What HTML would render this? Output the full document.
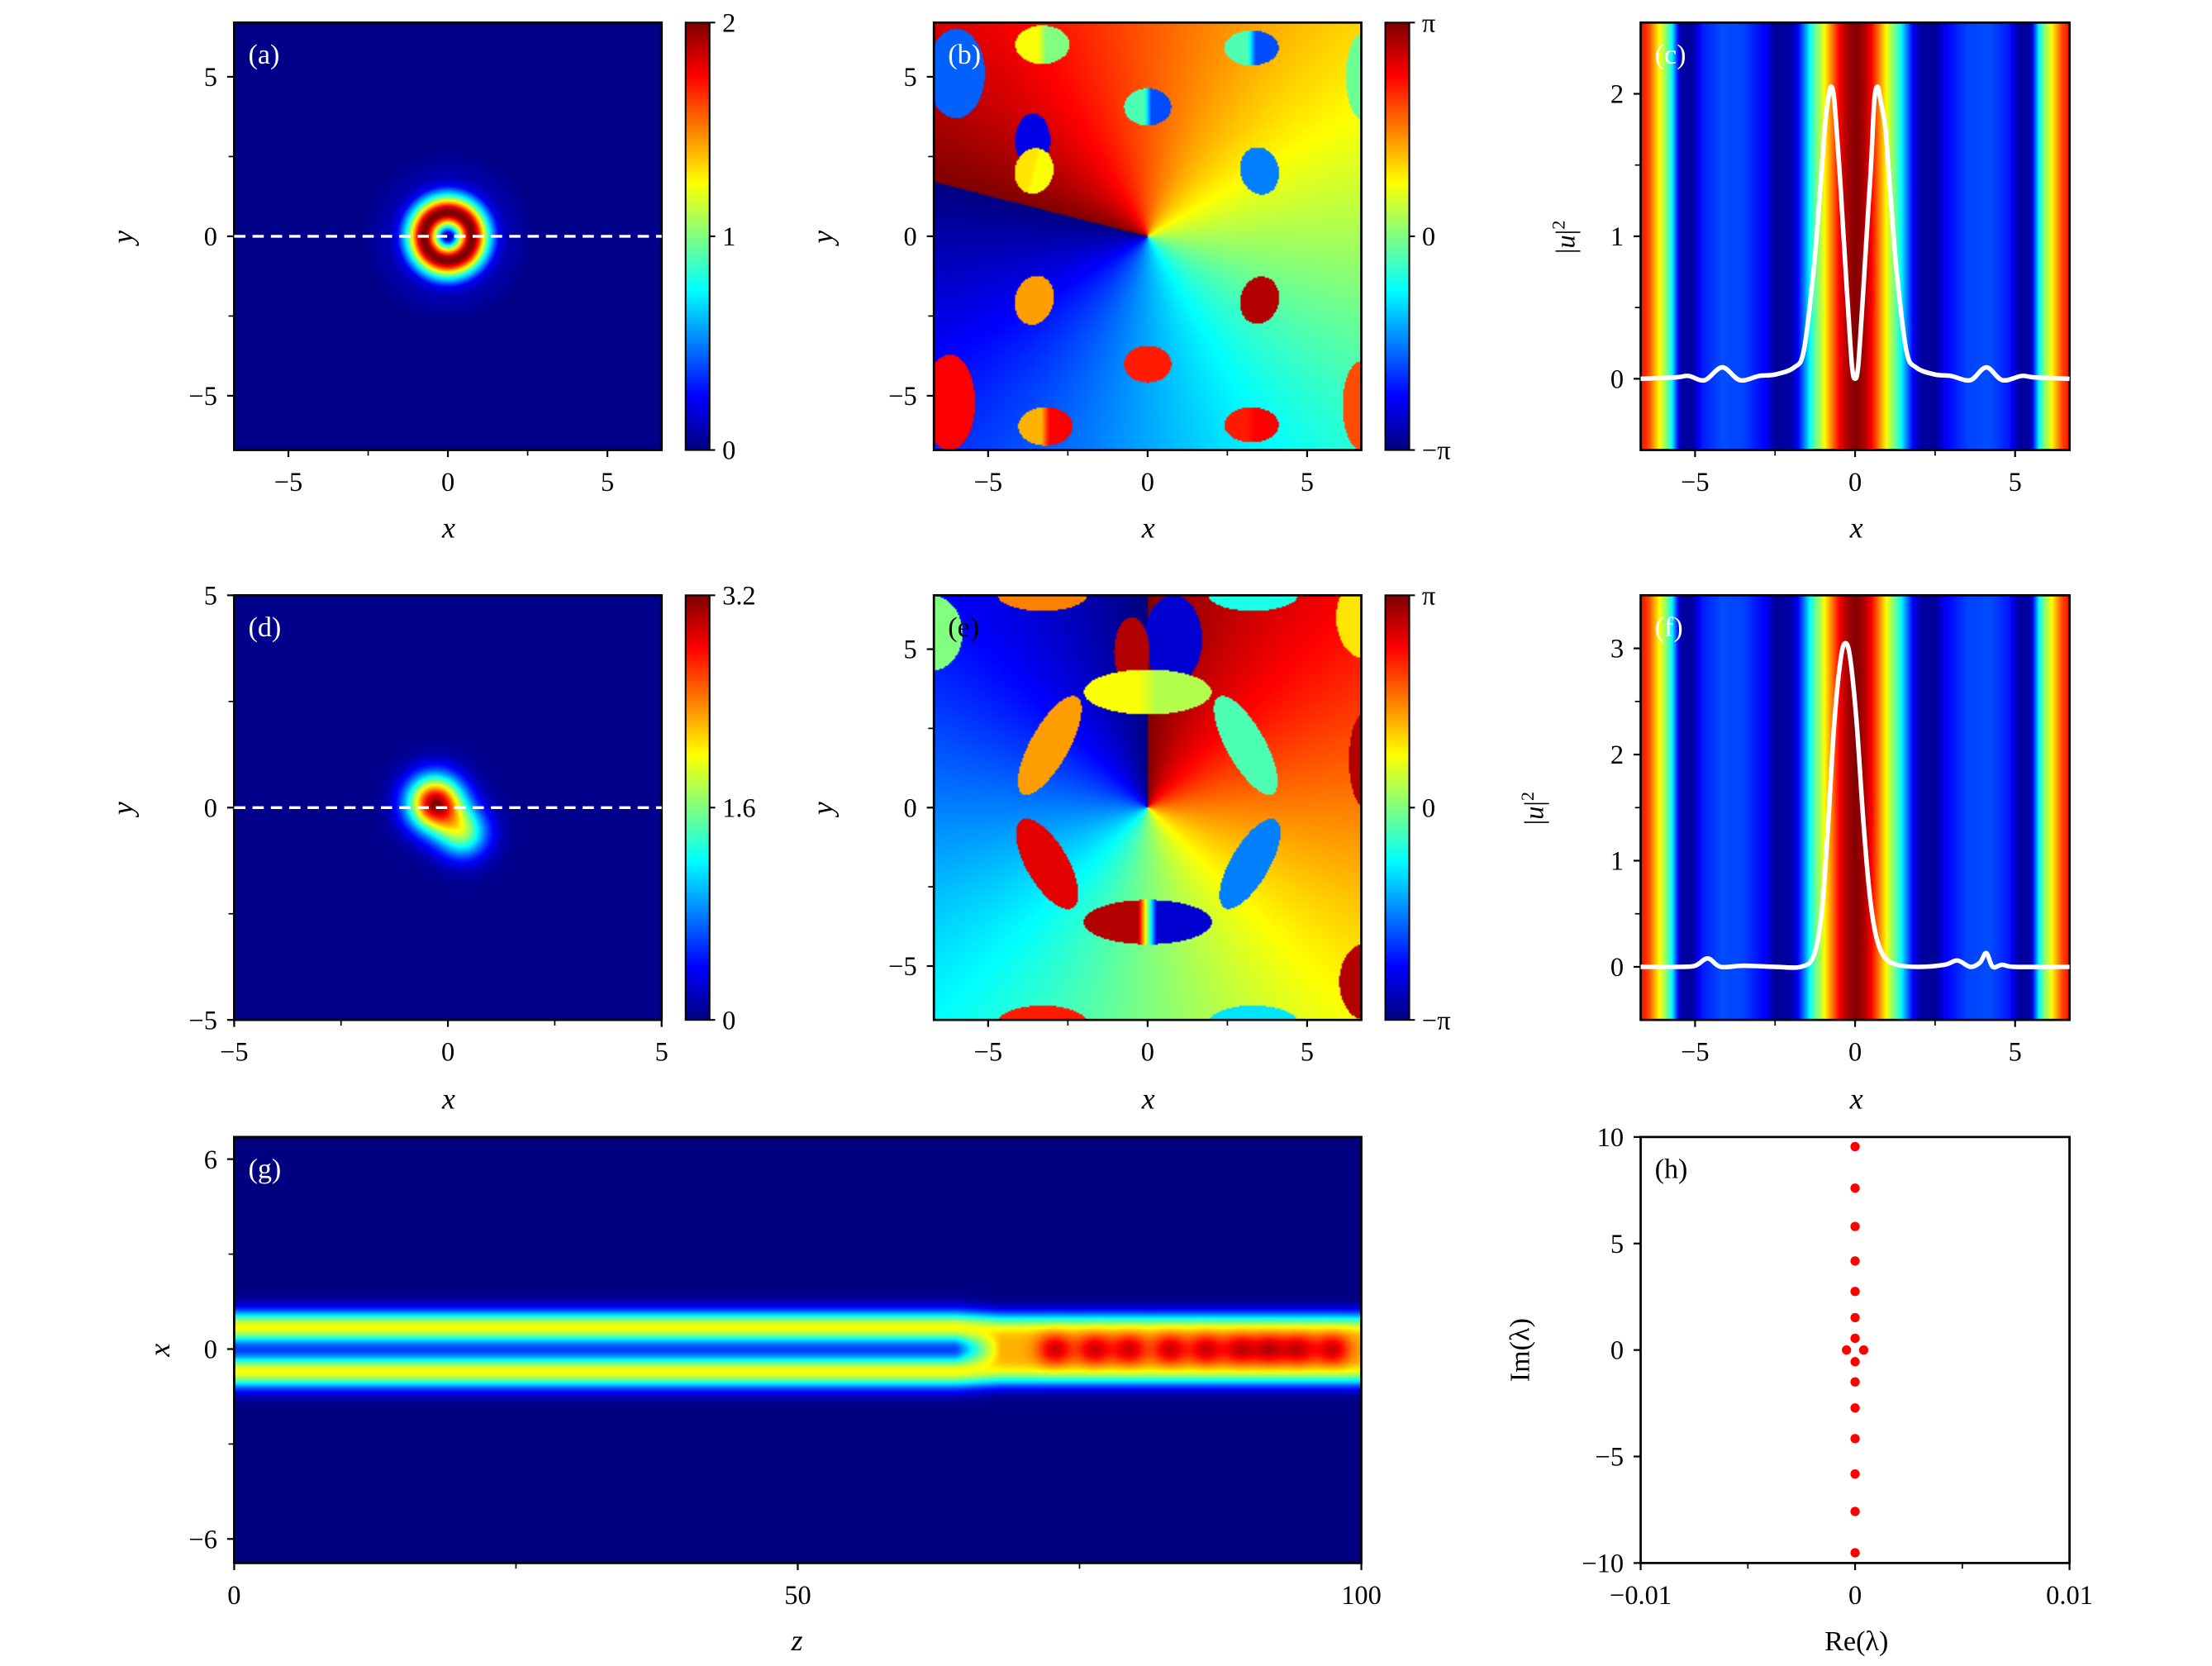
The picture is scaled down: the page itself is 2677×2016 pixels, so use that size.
<!DOCTYPE html>
<html><head><meta charset="utf-8"><style>
html,body{margin:0;padding:0;background:#fff}
#root{position:relative;width:2677px;height:2016px;overflow:hidden;background:#fff}
canvas{position:absolute}
svg{position:absolute;left:0;top:0}
text{font-family:"Liberation Serif",serif}
</style></head><body>
<div id="root">
<svg id="ov" width="2677" height="2016" viewBox="0 0 1568 1181" preserveAspectRatio="none">
<defs>
<linearGradient id="jetg" x1="0" y1="1" x2="0" y2="0">
<stop offset="0" stop-color="#000080"/><stop offset="0.125" stop-color="#0000ff"/><stop offset="0.375" stop-color="#00ffff"/><stop offset="0.625" stop-color="#ffff00"/><stop offset="0.875" stop-color="#ff0000"/><stop offset="1" stop-color="#800000"/>
</linearGradient>
</defs>
<g id="axes"></g>
</svg>
</div>
<script>
// ---------- data ----------
const cProfileX=[-6.7,-5.6,-5.2,-4.7,-4.15,-3.6,-3.0,-2.5,-1.9,-1.6,-1.3,-1.1,-0.95,-0.85,-0.75,-0.65,-0.5,-0.4,-0.25,-0.1,0,0.1,0.25,0.4,0.5,0.6,0.7,0.8,0.95,1.1,1.3,1.6,1.9,2.5,3.0,3.6,4.1,4.6,5.2,5.6,6.7];
const cProfileY=[0,0.01,0.02,-0.01,0.08,-0.01,0.02,0.03,0.08,0.2,0.75,1.3,1.75,1.95,2.05,1.95,1.5,1.15,0.6,0.1,0,0.1,0.6,1.15,1.5,1.95,2.05,1.95,1.75,1.3,0.75,0.2,0.08,0.03,0.02,-0.01,0.08,-0.01,0.02,0.01,0];
const fProfileX=[-6.7,-5.5,-5.0,-4.6,-4.2,-3.5,-2.5,-1.7,-1.3,-1.05,-0.85,-0.65,-0.45,-0.3,-0.15,0.05,0.25,0.45,0.65,0.9,1.3,2.0,2.8,3.2,3.6,3.9,4.1,4.3,4.6,5.0,6.7];
const fProfileY=[0,0,0.01,0.08,0.0,0.01,0.0,0.0,0.1,0.5,1.3,2.3,2.9,3.05,2.9,2.3,1.4,0.7,0.3,0.1,0.02,0.0,0.02,0.06,0.0,0.04,0.13,0.0,0.02,0.0,0];
const dBlobX=[-0.3,0.35];
const dBlobY=[0.1,-0.6];
const dBlobAmp=[3.05,1.5];
const dBlobSigma=[0.45,0.42];
const stripeX=[0,0.3,0.5,0.65,0.9,1.1,1.3,1.45,1.6,1.8,2.0,2.5,2.8,3.5,4.2,4.8,5.1,5.45,5.6,5.73,5.9,6.12,6.45,6.8];
const stripeV=[1.0,0.95,0.88,0.8,0.66,0.55,0.45,0.36,0.25,0.12,0.04,0.02,0.12,0.19,0.2,0.15,0.03,0.03,0.2,0.37,0.5,0.62,0.8,0.9];
const bFeatX=[-3.3,0,3.25,-3.6,-3.56,3.5,-3.55,3.5,0,-3.2,3.25,-6.0,-6.2,6.8,6.7];
const bFeatY=[6.0,4.05,5.9,3.0,2.05,2.05,-2.0,-2.0,-4.0,-5.95,-5.9,5.1,-5.2,5.0,-5.3];
const bFeatRx=[0.85,0.74,0.85,0.55,0.6,0.6,0.6,0.6,0.74,0.85,0.85,0.9,0.8,0.6,0.6];
const bFeatRy=[0.6,0.58,0.55,0.85,0.72,0.75,0.78,0.75,0.58,0.6,0.55,1.4,1.5,1.4,1.4];
const bFeatRot=[0,0,0,0,-15,15,-15,-15,0,0,0,0,0,0,0];
const bFeatV1=[0.62,0.45,0.45,0.1,0.65,0.25,0.72,0.95,0.85,0.7,0.85,0.22,0.88,0.48,0.8];
const bFeatV2=[0.5,0.2,0.2,0.1,0.62,0.25,0.72,0.95,0.85,0.88,0.88,0.22,0.88,0.48,0.8];
const eFeatX=[0.8,-0.5,0,-3.07,3.07,-3.15,3.2,0,-3.3,3.3,-3.3,3.3,-6.8,6.8,6.8,6.8];
const eFeatY=[5.3,4.9,3.64,1.96,1.96,-1.78,-1.78,-3.62,6.7,6.7,-6.8,-6.8,5.5,6.0,1.5,-5.5];
const eFeatRx=[0.9,0.55,2.0,0.6,0.6,0.65,0.6,2.0,1.4,1.4,1.4,1.4,1.0,0.9,0.5,0.8];
const eFeatRy=[1.4,1.1,0.71,1.75,1.75,1.6,1.6,0.7,0.5,0.5,0.55,0.55,1.2,1.3,1.5,1.2];
const eFeatRot=[0,0,0,-29,29,30,-30,0,0,0,0,0,0,0,0,0];
const eFeatV1=[0.08,0.95,0.62,0.72,0.45,0.9,0.25,0.95,0.75,0.4,0.85,0.35,0.5,0.65,0.95,0.95];
const eFeatV2=[0.08,0.95,0.55,0.72,0.45,0.9,0.25,0.08,0.75,0.4,0.85,0.35,0.5,0.65,0.95,0.95];
const gBreakZ=66;
const gSpotZ=[72.8,76.3,79.4,83,86.2,89.2,91.8,94.4,97.4];
const hReal=[0,0,0,0,0,0,0,-0.0004,0.0004,0,0,0,0,0,0,0];
const hImag=[9.55,7.6,5.8,4.18,2.75,1.52,0.55,0,0,-0.55,-1.5,-2.72,-4.16,-5.82,-7.58,-9.52];
const ticks67=[-5,0,5], minor67=[-2.5,2.5];
const ticks5=[-5,0,5], minor5=[-2.5,2.5];
// ---------- helpers ----------
const K=2677/1568;
const NS='http://www.w3.org/2000/svg';
const axesG=document.getElementById('axes');
const root=document.getElementById('root');
function jet(v){v=Math.max(0,Math.min(1,v));const c=t=>Math.max(0,Math.min(1,1.5-Math.abs(t)));return [c(4*v-3)*255,c(4*v-2)*255,c(4*v-1)*255];}
function interp(xs,ys,x){if(x<=xs[0])return ys[0];for(let i=1;i<xs.length;i++){if(x<=xs[i]){const t=(x-xs[i-1])/(xs[i]-xs[i-1]);return ys[i-1]+t*(ys[i]-ys[i-1]);}}return ys[ys.length-1];}
function G(d,s){return Math.exp(-d*d/(2*s*s));}
function heat(name,x0,y0,x1,y1,w,h,xd,yd,fn){
  const cv=document.createElement('canvas');
  
  
  cv.width=w;cv.height=h;
  cv.style.left=(x0*K)+'px';cv.style.top=(y0*K)+'px';
  cv.style.width=((x1-x0)*K)+'px';cv.style.height=((y1-y0)*K)+'px';
  const ctx=cv.getContext('2d');const im=ctx.createImageData(w,h);
  for(let j=0;j<h;j++){const y=yd[1]-(yd[1]-yd[0])*(j+0.5)/h;
    for(let i=0;i<w;i++){const x=xd[0]+(xd[1]-xd[0])*(i+0.5)/w;
      const c=jet(fn(x,y));const k=(j*w+i)*4;im.data[k]=c[0];im.data[k+1]=c[1];im.data[k+2]=c[2];im.data[k+3]=255;}}
  ctx.putImageData(im,0,0);root.insertBefore(cv,root.firstChild);
}
function el(tag,attrs,parent){const e=document.createElementNS(NS,tag);for(const k in attrs)e.setAttribute(k,attrs[k]);(parent||axesG).appendChild(e);return e;}
function txt(s,x,y,size,anchor,extra){const t=el('text',Object.assign({x:x,y:y,'font-size':size,'text-anchor':anchor||'middle',fill:'#000'},extra||{}));t.textContent=s;return t;}
function fmt(v){return (v<0?'\u2212':'')+Math.abs(v);}
function smoothPath(px,py){let d='M'+px[0].toFixed(1)+','+py[0].toFixed(1);
  for(let i=0;i<px.length-1;i++){const i0=Math.max(0,i-1),i3=Math.min(px.length-1,i+2);
    const c1x=px[i]+(px[i+1]-px[i0])/6,c1y=py[i]+(py[i+1]-py[i0])/6;
    const c2x=px[i+1]-(px[i3]-px[i])/6,c2y=py[i+1]-(py[i3]-py[i])/6;
    d+='C'+c1x.toFixed(1)+','+c1y.toFixed(1)+' '+c2x.toFixed(1)+','+c2y.toFixed(1)+' '+px[i+1].toFixed(1)+','+py[i+1].toFixed(1);}
  return d;}
function axes(p){
  const sx=v=>p.x0+(v-p.xd[0])/(p.xd[1]-p.xd[0])*(p.x1-p.x0);
  const sy=v=>p.y1-(v-p.yd[0])/(p.yd[1]-p.yd[0])*(p.y1-p.y0);
  p.xt.forEach(v=>{const X=sx(v);
    const t=el('line',{x1:X,y1:p.y1,x2:X,y2:p.y1+5,stroke:'#000','stroke-width':1.3});
    
    
    const l=txt(p.xl?p.xl(v):fmt(v),X,p.y1+29,19);
    
    });
  (p.xm||[]).forEach(v=>{const X=sx(v);
    const t=el('line',{x1:X,y1:p.y1,x2:X,y2:p.y1+4,stroke:'#000','stroke-width':1});
    
    });
  p.yt.forEach(v=>{const Y=sy(v);
    const t=el('line',{x1:p.x0-5,y1:Y,x2:p.x0,y2:Y,stroke:'#000','stroke-width':1.3});
    
    
    const l=txt(fmt(v),p.x0-12,Y+6.5,19,'end');
    
    });
  (p.ym||[]).forEach(v=>{const Y=sy(v);
    const t=el('line',{x1:p.x0-4,y1:Y,x2:p.x0,y2:Y,stroke:'#000','stroke-width':1});
    
    });
  const r=el('rect',{x:p.x0,y:p.y0,width:p.x1-p.x0,height:p.y1-p.y0,fill:'none',stroke:'#000','stroke-width':1.6});
  
  
  const pl=txt(p.letter,p.x0+10,p.y0+29,20,'start',{fill:p.lc||'#fff'});
  
  
  return {sx,sy};
}
function cbar(name,x0,y0,x1,y1,labels){
  const r=el('rect',{x:x0,y:y0,width:x1-x0,height:y1-y0,fill:'url(#jetg)',stroke:'#000','stroke-width':1.2});
  
  
  labels.forEach((s,i)=>{const Y=y0+(y1-y0)*i/(labels.length-1);
    const t=el('line',{x1:x1,y1:Y,x2:x1+4,y2:Y,stroke:'#000','stroke-width':1.2});
    
    
    const l=txt(s,x1+9,Y+6.5,19,'start');
    
    });
}
function phaseFn(base,FX,FY,RX,RY,RO,V1,V2){
  return (x,y)=>{let v=base(x,y);
    for(let k=0;k<FX.length;k++){const a=RO[k]*Math.PI/180,dx=x-FX[k],dy=y-FY[k];
      const lx=dx*Math.cos(a)+dy*Math.sin(a),ly=-dx*Math.sin(a)+dy*Math.cos(a);
      if((lx/RX[k])**2+(ly/RY[k])**2<=1){const t=Math.max(0,Math.min(1,(lx/RX[k]+0.15)/0.3));v=V1[k]+(V2[k]-V1[k])*t;}}
    return v;};
}
const H=6.7;
// ---------- heatmaps ----------
heat('heatmap-a',166,16,469,319,260,260,[-H,H],[-H,H],(x,y)=>{const r=Math.hypot(x,y);const I=r<2.6?interp(cProfileX,cProfileY,-r):0.01;return Math.max(0,I)/2+0.004;});
heat('heatmap-b',662,16,965,319,300,300,[-H,H],[-H,H],phaseFn((x,y)=>{let v=0.5+(Math.atan2(y,x)+0.25)/(2*Math.PI);return v>1?v-1:v;},bFeatX,bFeatY,bFeatRx,bFeatRy,bFeatRot,bFeatV1,bFeatV2));
heat('heatmap-c',1163,16,1467,319,400,4,[-H,H],[-H,H],(x,y)=>interp(stripeX,stripeV,Math.abs(x)));
heat('heatmap-d',166,422,469,723,260,260,[-5,5],[-5,5],(x,y)=>{let s=0;for(let k=0;k<dBlobX.length;k++)s+=dBlobAmp[k]*G(x-dBlobX[k],dBlobSigma[k])*G(y-dBlobY[k],dBlobSigma[k]);return s/3.2+0.01;});
heat('heatmap-e',662,422,965,723,300,300,[-H,H],[-H,H],phaseFn((x,y)=>{let p=Math.atan2(x,y);if(p<0)p+=2*Math.PI;return 1-p/(2*Math.PI);},eFeatX,eFeatY,eFeatRx,eFeatRy,eFeatRot,eFeatV1,eFeatV2));
heat('heatmap-f',1163,422,1467,723,400,4,[-H,H],[-H,H],(x,y)=>interp(stripeX,stripeV,Math.abs(x)));
heat('heatmap-g',166,806,965,1108,600,220,[0,100],[-6.76,6.7],(z,x)=>{
  const two=0.62*(G(x-0.7,0.36)+G(x+0.7,0.36));
  let one=0.7*Math.exp(-Math.pow(Math.abs(x)/1.1,4));
  for(let k=0;k<gSpotZ.length;k++)one+=0.22*G(z-gSpotZ[k],1.1)*G(x,0.35);
  const t=Math.max(0,Math.min(1,(z-(gBreakZ-2))/4));
  return (1-t)*two+t*one;});
// ---------- axes ----------
const A=axes({name:'panel-a',letter:'(a)',x0:166,y0:16,x1:469,y1:319,xd:[-H,H],yd:[-H,H],xt:ticks67,xm:minor67,yt:ticks67,ym:minor67});
let dl=el('line',{x1:166,y1:A.sy(0),x2:469,y2:A.sy(0),stroke:'#fff','stroke-width':2,'stroke-dasharray':'8 5'});


cbar('colorbar-a',486,16,503,319,['2','1','0']);
axes({name:'panel-b',letter:'(b)',x0:662,y0:16,x1:965,y1:319,xd:[-H,H],yd:[-H,H],xt:ticks67,xm:minor67,yt:ticks67,ym:minor67});
cbar('colorbar-b',982,16,999,319,['\u03c0','0','\u2212\u03c0']);
const C=axes({name:'panel-c',letter:'(c)',x0:1163,y0:16,x1:1467,y1:319,xd:[-H,H],yd:[-0.5,2.5],xt:ticks67,xm:minor67,yt:[0,1,2],ym:[0.5,1.5]});
let lc=el('path',{d:smoothPath(cProfileX.map(C.sx),cProfileY.map(C.sy)),fill:'none',stroke:'#fff','stroke-width':3.2,'stroke-linejoin':'round'});


const D=axes({name:'panel-d',letter:'(d)',x0:166,y0:422,x1:469,y1:723,xd:[-5,5],yd:[-5,5],xt:ticks5,xm:minor5,yt:ticks5,ym:minor5});
dl=el('line',{x1:166,y1:D.sy(0),x2:469,y2:D.sy(0),stroke:'#fff','stroke-width':2,'stroke-dasharray':'8 5'});


cbar('colorbar-d',486,422,503,723,['3.2','1.6','0']);
axes({name:'panel-e',letter:'(e)',lc:'#000',x0:662,y0:422,x1:965,y1:723,xd:[-H,H],yd:[-H,H],xt:ticks67,xm:minor67,yt:ticks67,ym:minor67});
cbar('colorbar-e',982,422,999,723,['\u03c0','0','\u2212\u03c0']);
const F=axes({name:'panel-f',letter:'(f)',x0:1163,y0:422,x1:1467,y1:723,xd:[-H,H],yd:[-0.5,3.5],xt:ticks67,xm:minor67,yt:[0,1,2,3],ym:[0.5,1.5,2.5]});
let lf=el('path',{d:smoothPath(fProfileX.map(F.sx),fProfileY.map(F.sy)),fill:'none',stroke:'#fff','stroke-width':3.2,'stroke-linejoin':'round'});


axes({name:'panel-g',letter:'(g)',x0:166,y0:806,x1:965,y1:1108,xd:[0,100],yd:[-6.76,6.7],xt:[0,50,100],xm:[25,75],yt:[-6,0,6],ym:[-3,3]});
const Hh=axes({name:'panel-h',letter:'(h)',lc:'#000',x0:1163,y0:806,x1:1467,y1:1108,xd:[-0.01,0.01],yd:[-10,10],xt:[-0.01,0,0.01],xm:[-0.005,0.005],yt:[-10,-5,0,5,10],ym:[],xl:v=>v===0?'0':(v<0?'\u22120.01':'0.01')});
hImag.forEach((v,i)=>{const c=el('circle',{cx:Hh.sx(hReal[i]),cy:Hh.sy(v),r:3.3,fill:'#ff0000'});
  
  });
</script>
<script>
(function(){
 const lab=[['x',318,381,'x-axis-title-a'],['x',814,381,'x-axis-title-b'],['x',1316,381,'x-axis-title-c'],['x',318,786,'x-axis-title-d'],['x',814,786,'x-axis-title-e'],['x',1316,786,'x-axis-title-f'],['z',565,1170,'x-axis-title-g']];
 lab.forEach(a=>{const t=txt(a[0],a[1],a[2],21,'middle',{'font-style':'italic'});
   
   });
 const ylab=[['y',94,168,'y-axis-title-a'],['y',590,168,'y-axis-title-b'],['y',94,573,'y-axis-title-d'],['y',590,573,'y-axis-title-e'],['x',120,957,'y-axis-title-g']];
 ylab.forEach(a=>{const t=txt(a[0],a[1],a[2],21,'middle',{'font-style':'italic',transform:'rotate(-90 '+a[1]+' '+a[2]+')'});
   
   });
 const u1=txt('',1116,168,19,'middle',{transform:'rotate(-90 1116 168)'});
 u1.innerHTML='|<tspan font-style="italic">u</tspan>|<tspan dy="-7" font-size="13">2</tspan>';
 
 
 const u2=txt('',1094,573,19,'middle',{transform:'rotate(-90 1094 573)'});
 u2.innerHTML='|<tspan font-style="italic">u</tspan>|<tspan dy="-7" font-size="13">2</tspan>';
 
 
 const im=txt('Im(\u03bb)',1084,957,20,'middle',{transform:'rotate(-90 1084 957)'});
 
 
 const re=txt('Re(\u03bb)',1316,1170,20,'middle');
 
 
})();
</script>
</body></html>
